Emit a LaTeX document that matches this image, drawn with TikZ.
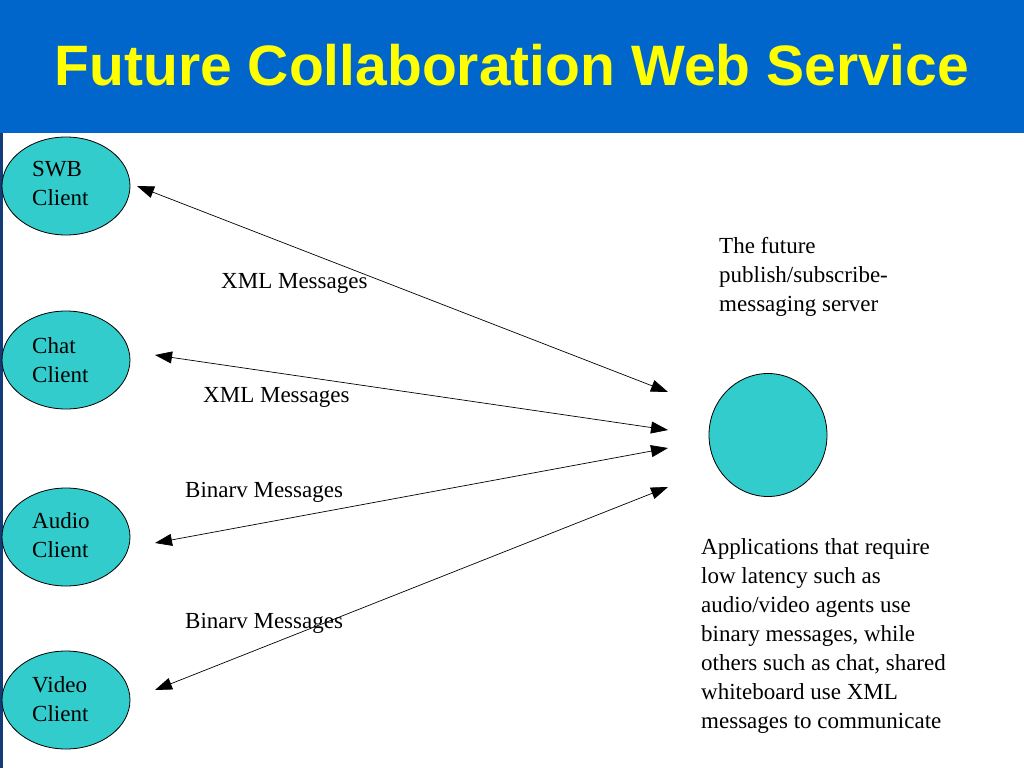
\documentclass[tikz,border=0pt]{standalone}
\usepackage{fontspec}
\setmainfont{Liberation Serif}
\newfontfamily\titlefont{Liberation Sans}
\usetikzlibrary{arrows.meta,shapes.geometric}
\definecolor{barblue}{RGB}{0,102,204}
\definecolor{edgeblue}{RGB}{20,60,120}
\definecolor{titleyellow}{RGB}{255,255,0}
\definecolor{clientteal}{RGB}{51,204,204}
\tikzset{
  client/.style={ellipse,draw=black,line width=0.8pt,fill=clientteal,minimum width=128pt,minimum height=98pt,inner sep=0pt},
  bodytext/.style={font=\fontsize{23}{29}\selectfont,inner sep=0pt,align=left},
  msg/.style={<->,line width=0.7pt,>={Triangle[length=17pt,width=12pt]}},
}
\begin{document}
\begin{tikzpicture}[x=1pt,y=-1pt]
\useasboundingbox (0,0) rectangle (1024,768);
\fill[white] (0,0) rectangle (1024,768);
\fill[barblue] (0,0) rectangle (1024,133);
\fill[edgeblue] (0,133) rectangle (2.5,768);
\node[font=\titlefont\bfseries\fontsize{57}{60}\selectfont,text=titleyellow,anchor=base,inner sep=0pt] (title) at (512,85) {Future Collaboration Web Service};

\node[client] (swb) at (66,186) {};
\node[client] (chat) at (66,360) {};
\node[client] (audio) at (66,537) {};
\node[client] (video) at (66,700) {};
\node[ellipse,draw=black,line width=0.8pt,fill=clientteal,minimum width=118pt,minimum height=123pt,inner sep=0pt] (server) at (768,435) {};

\node[bodytext,anchor=north west] (swbt) at (32,161) {SWB\\Client};
\node[bodytext,anchor=north west] (chatt) at (32,337) {Chat\\Client};
\node[bodytext,anchor=north west] (audiot) at (32,512) {Audio\\Client};
\node[bodytext,anchor=north west] (videot) at (32,676) {Video\\Client};

\coordinate (s1) at (668,392);
\coordinate (s2) at (668,430);
\coordinate (s3) at (668,448);
\coordinate (s4) at (668,487);
\coordinate (c1) at (137,186);
\coordinate (c2) at (155,355);
\coordinate (c3) at (155,543);
\coordinate (c4) at (155,690);
\draw[msg] (c1) -- (s1);
\draw[msg] (c2) -- (s2);
\draw[msg] (c3) -- (s3);
\draw[msg] (c4) -- (s4);

\node[bodytext,anchor=base west] (l1) at (221,288) {XML Messages};
\node[bodytext,anchor=base west] (l2) at (203,402) {XML Messages};
\node[bodytext,anchor=base west] (l3) at (185,497) {Binarv Messages};
\node[bodytext,anchor=base west] (l4) at (185,628) {Binarv Messages};

\node[bodytext,anchor=north west] (servt) at (719,237) {The future\\publish/subscribe-\\messaging server};
\node[bodytext,anchor=north west] (note) at (701,538) {Applications that require\\low latency such as\\audio/video agents use\\binary messages, while\\others such as chat, shared\\whiteboard use XML\\messages to communicate};
\end{tikzpicture}
\end{document}
